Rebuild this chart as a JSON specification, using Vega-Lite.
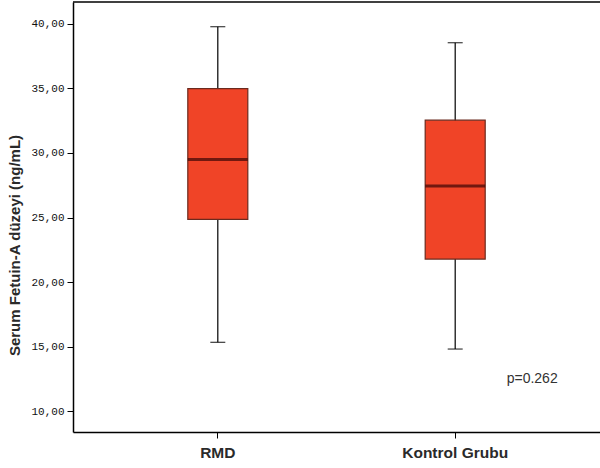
{
  "$schema": "https://vega.github.io/schema/vega-lite/v6.json",
  "autosize": "none",
  "padding": {"left": 73, "top": 2, "right": 0, "bottom": 36},
  "width": 527,
  "height": 430,
  "background": "white",
  "config": {"view": {"stroke": null}},
  "datasets": {
    "boxes": [
      {"group": "RMD", "min": 15.34, "q1": 24.85, "median": 29.49, "q3": 34.98, "max": 39.77},
      {"group": "Kontrol Grubu", "min": 14.82, "q1": 21.78, "median": 27.43, "q3": 32.53, "max": 38.53}
    ],
    "notes": [
      {"group": "Kontrol Grubu", "y": 12.5, "label": "p=0.262"}
    ],
    "frame": [
      {"top": 41.68}
    ]
  },
  "layer": [
    {
      "data": {"name": "frame"},
      "mark": {"type": "rule", "color": "black", "strokeWidth": 1.5},
      "encoding": {
        "y": {
          "field": "top", "type": "quantitative",
          "scale": {"domain": [8.4, 41.68], "nice": false, "zero": false},
          "axis": {
            "title": "Serum Fetuin-A düzeyi (ng/mL)", "titleFont": "Liberation Sans", "titleFontSize": 15,
            "titleFontWeight": "bold", "titleColor": "#2a2a2a", "titleY": 243, "titleX": -51,
            "values": [10, 15, 20, 25, 30, 35, 40],
            "labelExpr": "replace(format(datum.value, '.2f'), '.', ',')",
            "labelFont": "Liberation Mono", "labelFontSize": 11, "labelColor": "#111111", "labelPadding": 3,
            "tickSize": 6, "tickColor": "black", "domainColor": "black", "domainWidth": 1.5, "grid": false
          }
        }
      }
    },
    {
      "data": {"name": "boxes"},
      "mark": {"type": "rule", "color": "black", "strokeWidth": 1.2},
      "encoding": {
        "x": {
          "field": "group", "type": "nominal", "sort": ["RMD", "Kontrol Grubu"],
          "scale": {"paddingInner": 0, "paddingOuter": 0.11},
          "axis": {
            "title": null, "labelAngle": 0, "labelFont": "Liberation Sans", "labelFontSize": 15.5,
            "labelFontWeight": "bold", "labelColor": "#2a2a2a", "labelPadding": 7,
            "tickSize": 6, "tickColor": "black", "domainColor": "black", "domainWidth": 1.5
          }
        },
        "y": {"field": "min", "type": "quantitative"}, "y2": {"field": "max"}
      }
    },
    {
      "data": {"name": "boxes"},
      "mark": {"type": "tick", "color": "black", "size": 15, "thickness": 1.3, "orient": "horizontal"},
      "encoding": {
        "x": {"field": "group", "type": "nominal", "sort": ["RMD", "Kontrol Grubu"]},
        "y": {"field": "min", "type": "quantitative"}
      }
    },
    {
      "data": {"name": "boxes"},
      "mark": {"type": "tick", "color": "black", "size": 15, "thickness": 1.3, "orient": "horizontal"},
      "encoding": {
        "x": {"field": "group", "type": "nominal", "sort": ["RMD", "Kontrol Grubu"]},
        "y": {"field": "max", "type": "quantitative"}
      }
    },
    {
      "data": {"name": "boxes"},
      "mark": {"type": "bar", "size": 60, "fill": "#F04427", "stroke": "#6b2a1e", "strokeWidth": 1.2},
      "encoding": {
        "x": {"field": "group", "type": "nominal", "sort": ["RMD", "Kontrol Grubu"]},
        "y": {"field": "q1", "type": "quantitative"}, "y2": {"field": "q3"}
      }
    },
    {
      "data": {"name": "boxes"},
      "mark": {"type": "tick", "color": "#3a0606", "size": 60, "thickness": 3, "orient": "horizontal"},
      "encoding": {
        "x": {"field": "group", "type": "nominal", "sort": ["RMD", "Kontrol Grubu"]},
        "y": {"field": "median", "type": "quantitative"}
      }
    },
    {
      "data": {"name": "notes"},
      "mark": {"type": "text", "font": "Liberation Sans", "fontSize": 14, "color": "#333333", "dx": 77},
      "encoding": {
        "x": {"field": "group", "type": "nominal", "sort": ["RMD", "Kontrol Grubu"]},
        "y": {"field": "y", "type": "quantitative"},
        "text": {"field": "label"}
      }
    }
  ]
}
